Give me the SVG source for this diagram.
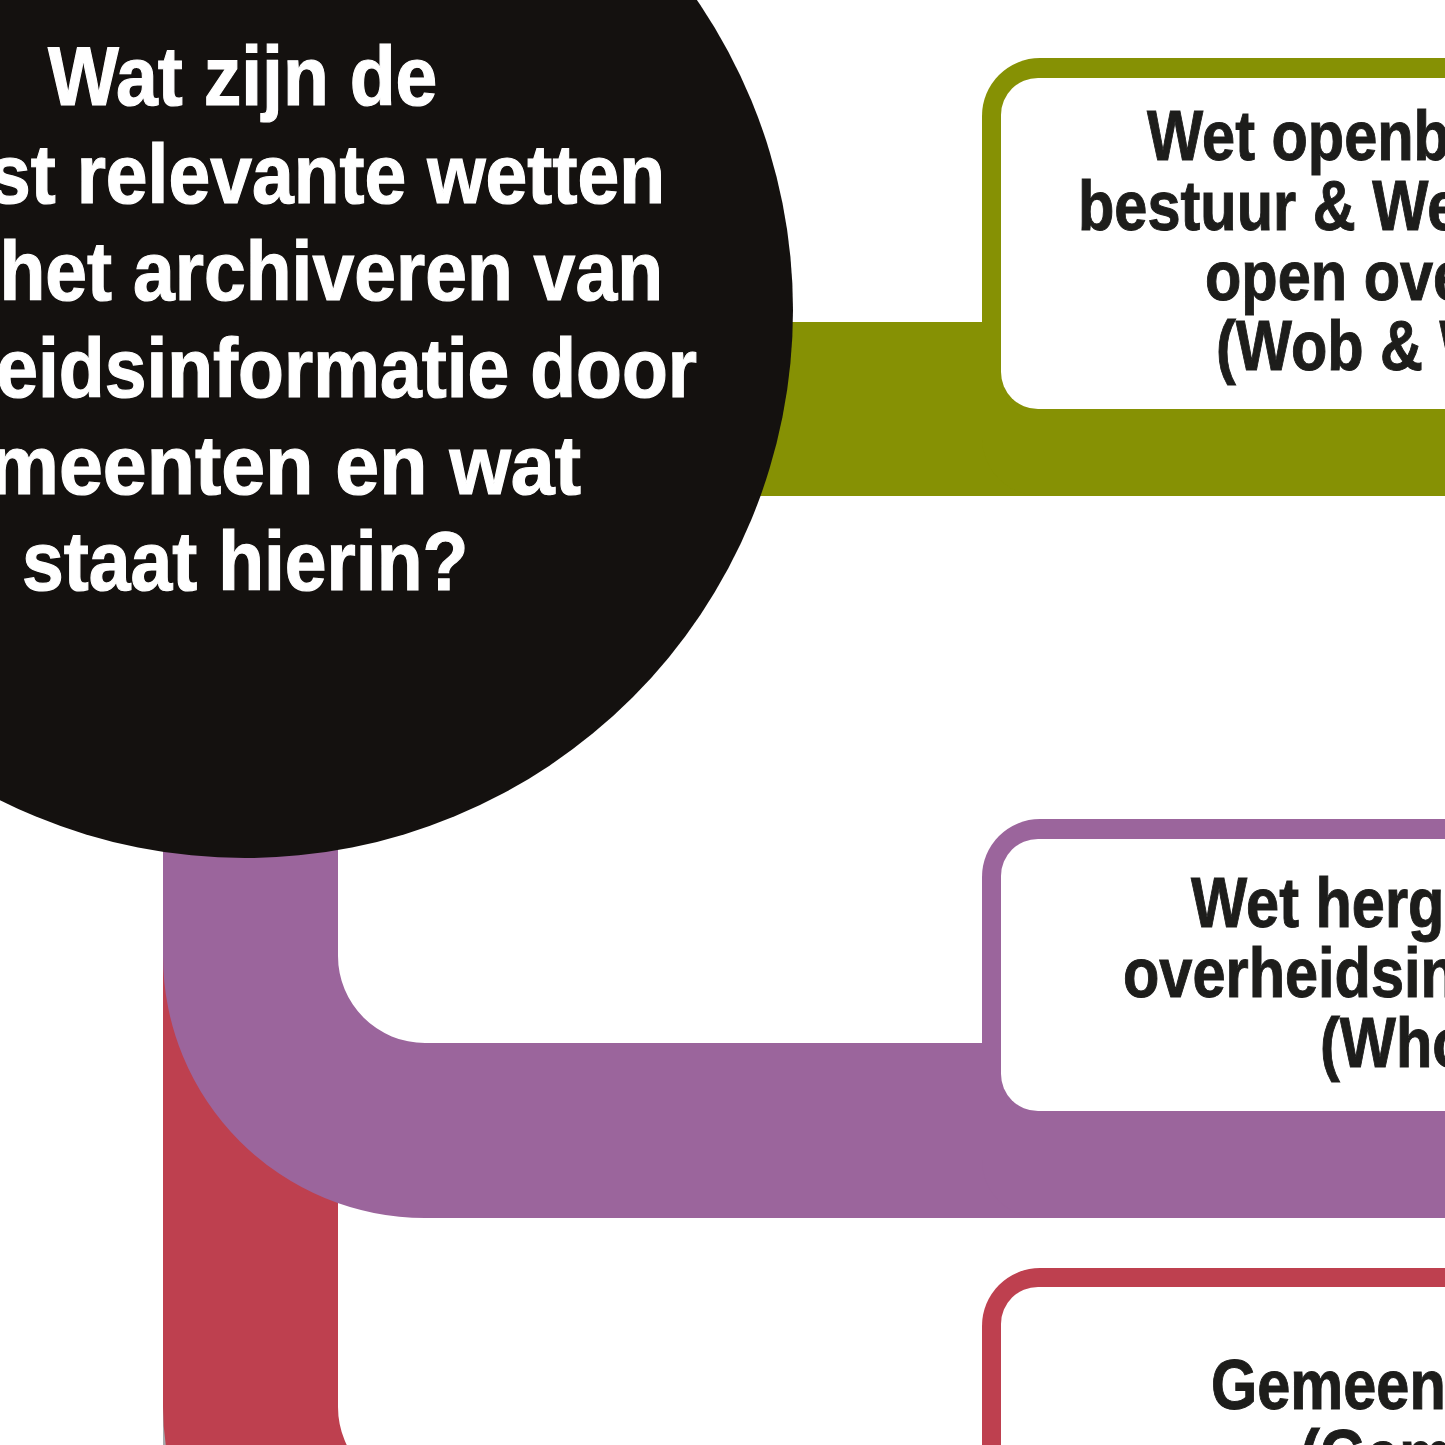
<svg xmlns="http://www.w3.org/2000/svg" width="1445" height="1445" viewBox="0 0 1445 1445">
<style>
.title{font-family:"Liberation Sans",Arial,sans-serif;font-weight:bold;font-size:84px;fill:#ffffff;stroke:#ffffff;stroke-width:1.2px}
.lbl{font-family:"Liberation Sans",Arial,sans-serif;font-weight:bold;font-size:70px;fill:#1d1d1b;stroke:#1d1d1b;stroke-width:1px}
.box{fill:#ffffff}
</style>
<rect width="1445" height="1445" fill="#ffffff"/>
<g id="connectors">
  <rect x="163" y="1300" width="175" height="145" fill="#a7a9ac"/>
  <path d="M163 900 L338 900 L338 1407 A87 87 0 0 0 425 1494 L1445 1494 L1445 1669 L425 1669 A262 262 0 0 1 163 1407 Z" fill="#be404f"/>
  <rect x="600" y="322" width="845" height="174" fill="#869104"/>
  <path d="M163 700 L338 700 L338 956 A87 87 0 0 0 425 1043 L1445 1043 L1445 1218 L425 1218 A262 262 0 0 1 163 956 Z" fill="#9b659c"/>
</g>
<g id="question">
  <circle cx="245" cy="310" r="548" fill="#14110f"/>
  <text class="title" transform="translate(48 105) scale(0.894 1)">Wat zijn de</text>
  <text class="title" transform="translate(665 203) scale(0.894 1)" text-anchor="end">meest relevante wetten</text>
  <text class="title" transform="translate(663 300) scale(0.894 1)" text-anchor="end">voor het archiveren van</text>
  <text class="title" transform="translate(697 397) scale(0.894 1)" text-anchor="end">overheidsinformatie door</text>
  <text class="title" transform="translate(581 494) scale(0.94 1)" text-anchor="end">gemeenten en wat</text>
  <text class="title" transform="translate(22 590) scale(0.894 1)">staat hierin?</text>
</g>
<g id="wob-woo">
  <rect x="982" y="58" width="700" height="438" rx="58" fill="#869104"/>
  <rect class="box" x="1001" y="78" width="700" height="331" rx="37"/>
  <text class="lbl" transform="translate(1147 160) scale(0.85 1)">Wet openbaarheid van</text>
  <text class="lbl" transform="translate(1078 230) scale(0.85 1)">bestuur &amp; Wet</text>
  <text class="lbl" transform="translate(1205 300) scale(0.85 1)">open overheid</text>
  <text class="lbl" transform="translate(1216 370) scale(0.85 1)">(Wob &amp; Woo)</text>
</g>
<g id="whoi">
  <rect x="982" y="819" width="700" height="399" rx="58" fill="#9b659c"/>
  <rect class="box" x="1001" y="839" width="700" height="272" rx="37"/>
  <text class="lbl" transform="translate(1191 927) scale(0.85 1)">Wet hergebruik van</text>
  <text class="lbl" transform="translate(1123 997) scale(0.85 1)">overheidsinformatie</text>
  <text class="lbl" transform="translate(1320 1067) scale(0.85 1)">(Whoi)</text>
</g>
<g id="gemeentewet">
  <rect x="982" y="1268" width="700" height="400" rx="58" fill="#be404f"/>
  <rect class="box" x="1001" y="1287" width="700" height="300" rx="37"/>
  <text class="lbl" transform="translate(1211 1409) scale(0.85 1)">Gemeentewet</text>
  <text class="lbl" transform="translate(1300 1479) scale(0.85 1)">(Gemw)</text>
</g>
</svg>
